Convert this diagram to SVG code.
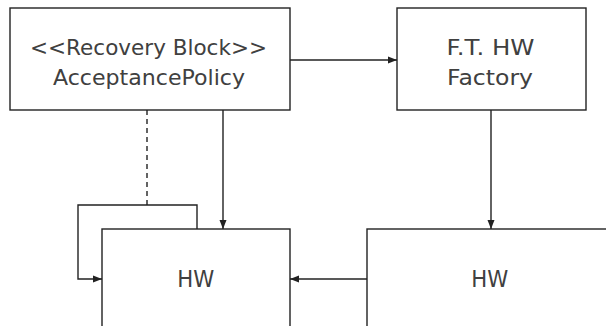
<svg xmlns="http://www.w3.org/2000/svg" width="606" height="326" viewBox="0 0 606 326">
  <style>
    .box { fill: #ffffff; stroke: #222222; stroke-width: 1.4; }
    .lbl { font-family: "DejaVu Sans", "Liberation Sans", sans-serif; fill: #404040; text-anchor: middle; }
    .wire { fill: none; stroke: #222222; stroke-width: 1.4; }
    .dash { stroke-dasharray: 5 4; }
  </style>
  <defs>
    <marker id="arrow" viewBox="0 0 9 8" refX="9" refY="4" markerWidth="9" markerHeight="8" markerUnits="userSpaceOnUse" orient="auto">
      <path d="M0,0.5 L9,4 L0,7.5 Z" fill="#222222"/>
    </marker>
  </defs>
  <rect width="606" height="326" fill="#ffffff"/>

  <g id="acceptance-policy">
    <rect class="box" x="10" y="8" width="280" height="102"/>
    <text class="lbl" x="148.5" y="54.5" font-size="20.5" textLength="237" lengthAdjust="spacingAndGlyphs">&lt;&lt;Recovery Block&gt;&gt;</text>
    <text class="lbl" x="149" y="85" font-size="20.5" textLength="192" lengthAdjust="spacingAndGlyphs">AcceptancePolicy</text>
  </g>

  <g id="ft-hw-factory">
    <rect class="box" x="397" y="8" width="189" height="102"/>
    <text class="lbl" x="490.5" y="54.5" font-size="20.5" textLength="88" lengthAdjust="spacingAndGlyphs">F.T. HW</text>
    <text class="lbl" x="490" y="85" font-size="20.5" textLength="86" lengthAdjust="spacingAndGlyphs">Factory</text>
  </g>

  <g id="hw-left">
    <rect class="box" x="102" y="229" width="188" height="110"/>
    <text class="lbl" x="195.8" y="286.5" font-size="23" textLength="37" lengthAdjust="spacingAndGlyphs">HW</text>
  </g>

  <g id="hw-right">
    <rect class="box" x="367" y="229" width="250" height="110"/>
    <text class="lbl" x="489.7" y="286.5" font-size="23" textLength="37" lengthAdjust="spacingAndGlyphs">HW</text>
  </g>

  <g id="connectors">
    <line class="wire" x1="290" y1="60" x2="397" y2="60" marker-end="url(#arrow)"/>
    <line class="wire" x1="223" y1="110" x2="223" y2="229" marker-end="url(#arrow)"/>
    <line class="wire" x1="491" y1="110" x2="491" y2="229" marker-end="url(#arrow)"/>
    <line class="wire" x1="367" y1="279" x2="290" y2="279" marker-end="url(#arrow)"/>
    <line class="wire dash" x1="147" y1="110" x2="147" y2="205"/>
    <polyline class="wire" points="197,229 197,205 78,205 78,279 102,279" marker-end="url(#arrow)"/>
  </g>
</svg>
